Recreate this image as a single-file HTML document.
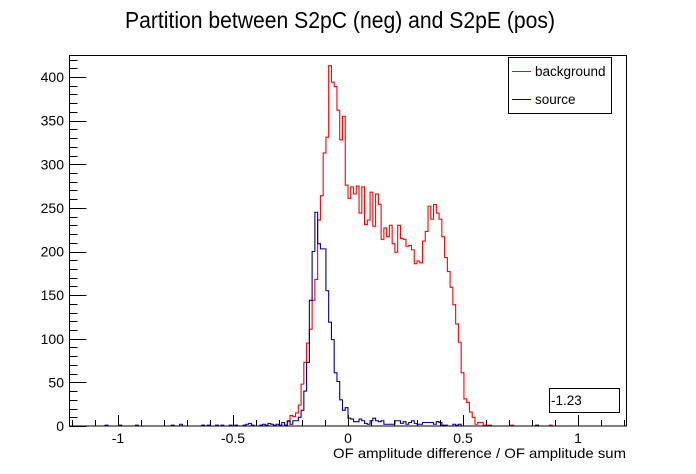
<!DOCTYPE html>
<html><head><meta charset="utf-8"><style>
html,body{margin:0;padding:0;background:#fff;}
svg{display:block;font-family:"Liberation Sans",Arial,sans-serif;}
</style></head><body>
<svg id="chart" width="696" height="474" viewBox="0 0 696 474">
<rect x="0" y="0" width="696" height="474" fill="#fff"/>
<text x="125" y="28" font-size="23.5" textLength="430" lengthAdjust="spacingAndGlyphs">Partition between S2pC (neg) and S2pE (pos)</text>
<g id="hists"></g>
<g id="axes"></g>
<rect x="69.5" y="55.5" width="557" height="370.5" fill="none" stroke="#000" stroke-width="1"/>
<g>
<rect x="508.5" y="57.5" width="103" height="56" fill="#fff" stroke="#000"/>
<line x1="512" y1="71.5" x2="531" y2="71.5" stroke="#ff0000"/>
<text x="535" y="76" font-size="13.5">background</text>
<line x1="512" y1="99.5" x2="531" y2="99.5" stroke="#000099"/>
<text x="535" y="104" font-size="13.5">source</text>
</g>
<g>
<rect x="549.5" y="388.5" width="70" height="24" fill="#fff" stroke="#000"/>
<text x="551" y="405" font-size="13.5">-1.23</text>
</g>
<text x="626" y="458" font-size="14" text-anchor="end" textLength="293" lengthAdjust="spacingAndGlyphs">OF amplitude difference / OF amplitude sum</text>
</svg>
<script>
const xMin = -1.2, binWidth = 0.012;
const red = [
0,0,0,0,0,0,0,0,0,0, 0,0,0,0,0,0,0,0,0,0, 0,0,0,0,0,0,0,0,0,0, 0,0,0,0,0,0,0,0,0,0,
0,0,0,0,0,0,0,0,0,0, 0,0,0,0,0,0,0,0,0,0, 0,0,0,0,0,0,0,0,0,0,
0,0,0,0,0,0,0,1,5,12,
11,15,24,48,73,95,111,144,168,236,
264,313,331,413,394,389,362,328,355,276,
261,274,266,275,244,274,231,236,268,229,
266,254,214,227,217,230,209,199,230,215,
214,206,207,202,186,189,187,212,223,252,
237,254,244,237,217,193,177,159,139,117,
96,61,31,27,16,10,2,4,4,1,
1,1,0,0,0,0,0,0,0,1,
0,0,0,0,0,0,0,0,0,0,
0,0,0,1,0,0,0,0,0,0,
0,0,0,0,0,0,0,0,0,0, 0,0,0,0,0,0,0,0,0,0];
const blue = [
0,0,0,0,0,0,0,0,0,0,
0,0,1,0,0,0,0,1,0,0,
0,0,0,1,0,0,0,0,0,0,
0,0,0,0,0,0,1,0,0,2,
0,0,0,0,0,0,0,1,0,1,
0,0,1,0,1,0,0,1,0,1,
0,0,1,2,3,1,0,0,1,2,
1,3,2,1,2,1,4,1,6,2,
6,6,10,18,40,73,144,200,245,209,
203,203,155,119,99,61,51,30,18,21,
9,8,5,5,8,6,3,2,6,9,
6,5,6,2,2,2,2,6,6,3,
5,2,4,6,3,2,2,4,4,4,
4,2,5,4,1,1,0,0,2,1,
2,0,0,0,0,0,0,0,0,0,
0,0,0,0,0,0,0,0,0,0,
0,0,0,0,0,0,0,0,1,0,
0,0,0,0,0,0,0,0,0,0, 0,0,0,0,0,0,0,0,0,0, 0,0,0,0,0,0,0,0,0,0];
const xTickLabels = ["-1","-0.5","0","0.5","1"];
const xTickValues = [-1,-0.5,0,0.5,1];
const yTickValues = [0,50,100,150,200,250,300,350,400];

const NS = "http://www.w3.org/2000/svg";
function X(v){ return 348 + (v) * 230; }
function Y(v){ return 426 - v * 0.8725; }
function mk(tag, attrs, parent){ const e=document.createElementNS(NS,tag); for(const k in attrs) e.setAttribute(k,attrs[k]); parent.appendChild(e); return e; }

function histPath(vals){
  let d = "M" + X(xMin).toFixed(2) + "," + Y(0).toFixed(2);
  for(let i=0;i<vals.length;i++){
    const x0 = X(xMin + i*binWidth), x1 = X(xMin + (i+1)*binWidth), y = Y(vals[i]);
    d += " L" + x0.toFixed(2) + "," + y.toFixed(2) + " L" + x1.toFixed(2) + "," + y.toFixed(2);
  }
  d += " L" + X(xMin + vals.length*binWidth).toFixed(2) + "," + Y(0).toFixed(2);
  return d;
}
const hg = document.getElementById('hists');
const pr = mk('path',{d:histPath(red),fill:'none',stroke:'#ff0000','stroke-width':'1.1'},hg);


const pb = mk('path',{d:histPath(blue),fill:'none',stroke:'#000099','stroke-width':'1.1'},hg);



const ax = document.getElementById('axes');
for(let k=-12;k<=12;k++){
  const v = k/10, px = Math.round(X(v))+0.5;
  if(px<69 || px>627) continue;
  const major = (k%5===0);
  const t = mk('line',{x1:px,y1:426,x2:px,y2:426-(major?11:6),stroke:'#000','stroke-width':1},ax);
  
  
}
xTickValues.forEach((v,i)=>{
  const t = mk('text',{x:X(v),y:443,'font-size':14,'text-anchor':'middle'},ax);
  t.textContent = xTickLabels[i];
  
  
});
for(let v=0; v<=420; v+=10){
  const py = Math.round(Y(v))+0.5;
  const major = (v%50===0);
  const t = mk('line',{x1:69.5,y1:py,x2:69.5+(major?17:8),y2:py,stroke:'#000','stroke-width':1},ax);
  
  
}
yTickValues.forEach(v=>{
  const t = mk('text',{x:64,y:Y(v)+5,'font-size':14,'text-anchor':'end'},ax);
  t.textContent = String(v);
  
  
});
</script>
</body></html>
